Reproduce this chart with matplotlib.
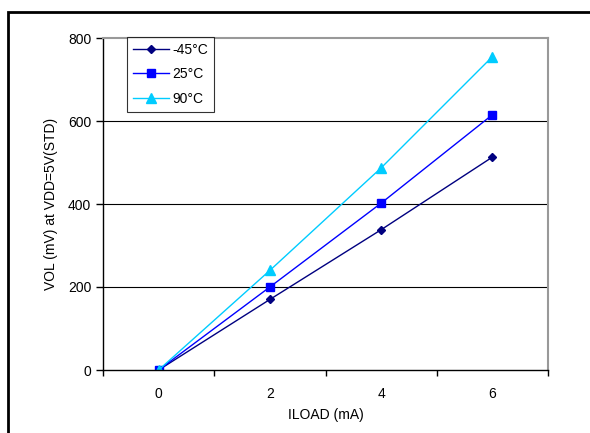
import matplotlib.pyplot as plt
from matplotlib.patches import Rectangle

plt.rcParams['font.family'] = ['Liberation Sans', 'DejaVu Sans']

iload = ['0', '2', '4', '6']
vol_m45 = [0, 170, 338, 513]
vol_25 = [0, 200, 402, 615]
vol_90 = [0, 240, 487, 755]

series = [
    ('-45°C', vol_m45, '#000080', 'D', 4.5),
    ('25°C', vol_25, '#0000FF', 's', 6),
    ('90°C', vol_90, '#00CCFF', '^', 6.5),
]

fig = plt.figure(figsize=(5.9, 4.33), dpi=100)
ax = fig.add_axes([103 / 590, 1 - 370 / 433, 445 / 590, 332 / 433])

xs = range(len(iload))
for label, vals, color, marker, ms in series:
    ax.plot(xs, vals, color=color, marker=marker, markersize=ms, lw=1, label=label)

ax.set_xlim(-0.5, len(iload) - 0.5)
ax.set_ylim(0, 800)
ax.set_yticks([0, 200, 400, 600, 800])
ax.set_xticks(list(xs))
ax.set_xticklabels(iload)
ax.set_xticks([i - 0.5 for i in range(len(iload) + 1)], minor=True)
ax.tick_params(axis='x', which='major', length=0, pad=12, labelsize=10)
ax.tick_params(axis='x', which='minor', length=4, width=1, direction='out')
ax.tick_params(axis='y', length=5, width=1, direction='out', labelsize=10)

ax.grid(False)
for y in [200, 400, 600]:
    ax.axhline(y, color='black', lw=0.8, zorder=0)

for side in ['top', 'right']:
    ax.spines[side].set_color('#999999')
    ax.spines[side].set_linewidth(1.5)
for side in ['left', 'bottom']:
    ax.spines[side].set_color('black')
    ax.spines[side].set_linewidth(1)

ax.set_xlabel('ILOAD (mA)', fontsize=10, labelpad=5)
ax.set_ylabel('VOL (mV) at VDD=5V(STD)', fontsize=10, labelpad=7)

leg = ax.legend(loc='upper left', bbox_to_anchor=(24 / 445, 1.004), fontsize=10,
                frameon=True, fancybox=False, edgecolor='black', borderpad=0.45,
                handlelength=2.6, handletextpad=0.2, labelspacing=0.75, borderaxespad=0)
leg.get_frame().set_linewidth(0.8)

fig.patches.append(Rectangle((8 / 590, -0.1), 1.2, 1 - 12 / 433 + 0.1,
                             transform=fig.transFigure, fill=False,
                             edgecolor='black', lw=2))

fig.savefig('out.png', dpi=100)
